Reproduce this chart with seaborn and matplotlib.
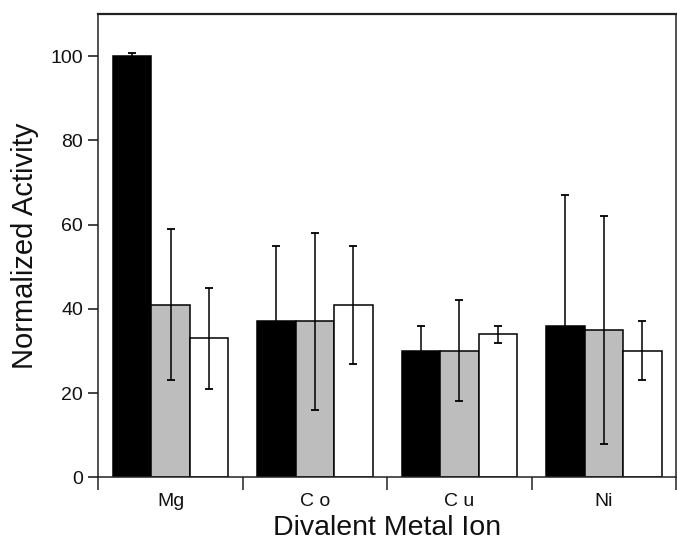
import matplotlib
matplotlib.use("Agg")
import matplotlib.pyplot as plt
import seaborn as sns
import pandas as pd
import numpy as np

metals = ["Mg", "C o", "C u", "Ni"]
series = ["A", "B", "C"]
vals_a = [100, 37, 30, 36]
vals_b = [41, 37, 30, 35]
vals_c = [33, 41, 34, 30]
err_a = [0.8, 18, 6, 31]
err_b = [18, 21, 12, 27]
err_c = [12, 14, 2, 7]
colors = ["#000000", "#bdbdbd", "#ffffff"]
yticks = [0, 20, 40, 60, 80, 100]

rows = []
for s, vs in zip(series, [vals_a, vals_b, vals_c]):
    for m, v in zip(metals, vs):
        rows.append({"metal": m, "series": s, "value": v})
df = pd.DataFrame(rows)

sns.set_theme(style="white")
plt.rcParams["font.family"] = ["Liberation Sans", "DejaVu Sans"]

fig = plt.figure(figsize=(6.77, 5.42), dpi=100)
ax = fig.add_axes([0.1452, 0.1194, 0.8533, 0.8548])

sns.barplot(data=df, x="metal", y="value", hue="series", order=metals,
            hue_order=series, palette=colors, errorbar=None, width=0.8,
            edgecolor="black", linewidth=1.1, saturation=1, legend=False, ax=ax)

for cont, errs in zip(ax.containers, [err_a, err_b, err_c]):
    xs = [b.get_x() + b.get_width() / 2 for b in cont]
    hs = [b.get_height() for b in cont]
    ax.errorbar(xs, hs, yerr=errs, fmt="none", ecolor="black",
                elinewidth=1.1, capsize=2.9, capthick=1.3, zorder=5)

ax.set_xlim(-0.5, 3.5)
ax.set_ylim(0, 110)
ax.set_yticks(yticks)
ax.set_xticks(range(len(metals)))
ax.set_xticklabels(metals)
ax.set_xticks(np.arange(-0.5, 4.0, 1.0), minor=True)
ax.tick_params(axis="x", which="major", length=0, pad=11, labelsize=14, colors="#111111")
ax.tick_params(axis="x", which="minor", length=9, width=1.1, direction="out", bottom=True, color="#222222")
ax.tick_params(axis="y", which="major", length=7, width=1.1, direction="out", left=True,
               labelsize=14, pad=4, colors="#111111")
for sp in ax.spines.values():
    sp.set_visible(True)
    sp.set_color("#222222")
    sp.set_linewidth(1.1)
ax.spines["top"].set_linewidth(1.6)

ax.set_xlabel("Divalent Metal Ion", fontsize=20.5, labelpad=4, color="#111111")
ax.set_ylabel("Normalized Activity", fontsize=21, labelpad=8, color="#111111")

fig.savefig("out.png", dpi=100)
